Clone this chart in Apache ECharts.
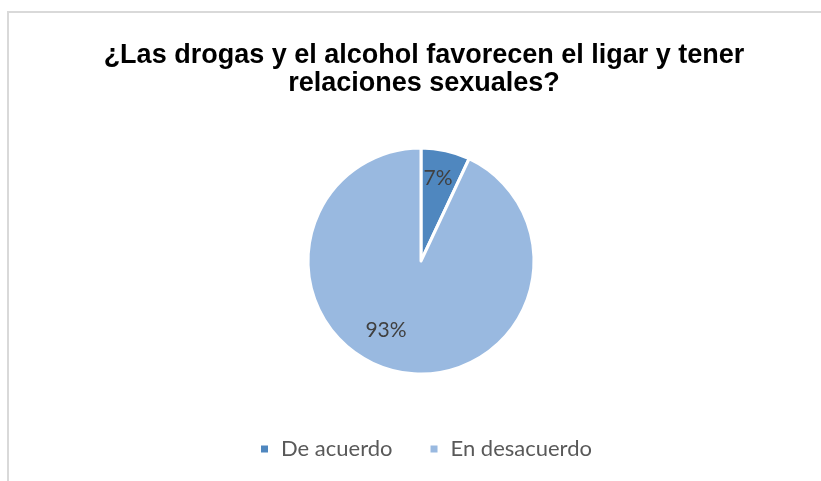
<!DOCTYPE html>
<html>
<head>
<meta charset="utf-8">
<script src="https://cdn.jsdelivr.net/npm/echarts@6/dist/echarts.min.js"></script>
<style>
  html, body { margin: 0; padding: 0; background: #fff; }
  #frame { position: absolute; left: 7px; top: 11px; width: 830px; height: 480px;
           border-left: 2px solid #d9d9d9; border-top: 2px solid #d9d9d9; box-sizing: border-box; }
  #chart { position: absolute; left: 0; top: 0; width: 821px; height: 481px; }
</style>
</head>
<body>
<div id="frame"></div>
<div id="chart"></div>
<script>
// Survey answers and their shares (%)
const categories = ['De acuerdo', 'En desacuerdo'];
const values = [7, 93];
const colors = ['#4f87bf', '#99b9e0'];
const titleText = '¿Las drogas y el alcohol favorecen el ligar y tener\nrelaciones sexuales?';

// nudges for the in-slice percentage labels
const labelShift = [[4, -25], [-22, 11]];

const chart = echarts.init(document.getElementById('chart'), null, { renderer: 'canvas' });
chart.setOption({
  animation: false,
  title: {
    text: titleText,
    left: 424,
    textAlign: 'center',
    top: 42,
    padding: 0,
    textStyle: {
      fontFamily: 'Liberation Sans, Arial, sans-serif',
      fontWeight: 'bold',
      fontSize: 27,
      lineHeight: 28,
      color: '#000'
    }
  },
  legend: {
    top: 433,
    left: 254,
    itemWidth: 9,
    itemHeight: 9,
    itemGap: 36,
    icon: 'rect',
    textStyle: { fontFamily: 'Lato, Carlito, sans-serif', fontSize: 22, color: '#595959', padding: [0, 0, 0, 7] },
    data: categories
  },
  series: [{
    type: 'pie',
    center: [421, 261],
    radius: 113,
    startAngle: 90,
    clockwise: true,
    itemStyle: { borderColor: '#fff', borderWidth: 3 },
    label: {
      position: 'inside',
      formatter: '{c}%',
      fontFamily: 'Lato, Carlito, sans-serif',
      fontSize: 21,
      color: '#404040'
    },
    labelLayout: function (p) {
      const s = labelShift[p.dataIndex];
      return { dx: s[0], dy: s[1] };
    },
    emphasis: { disabled: true },
    data: categories.map((c, i) => ({ name: c, value: values[i], itemStyle: { color: colors[i] } }))
  }]
});
</script>
</body>
</html>
